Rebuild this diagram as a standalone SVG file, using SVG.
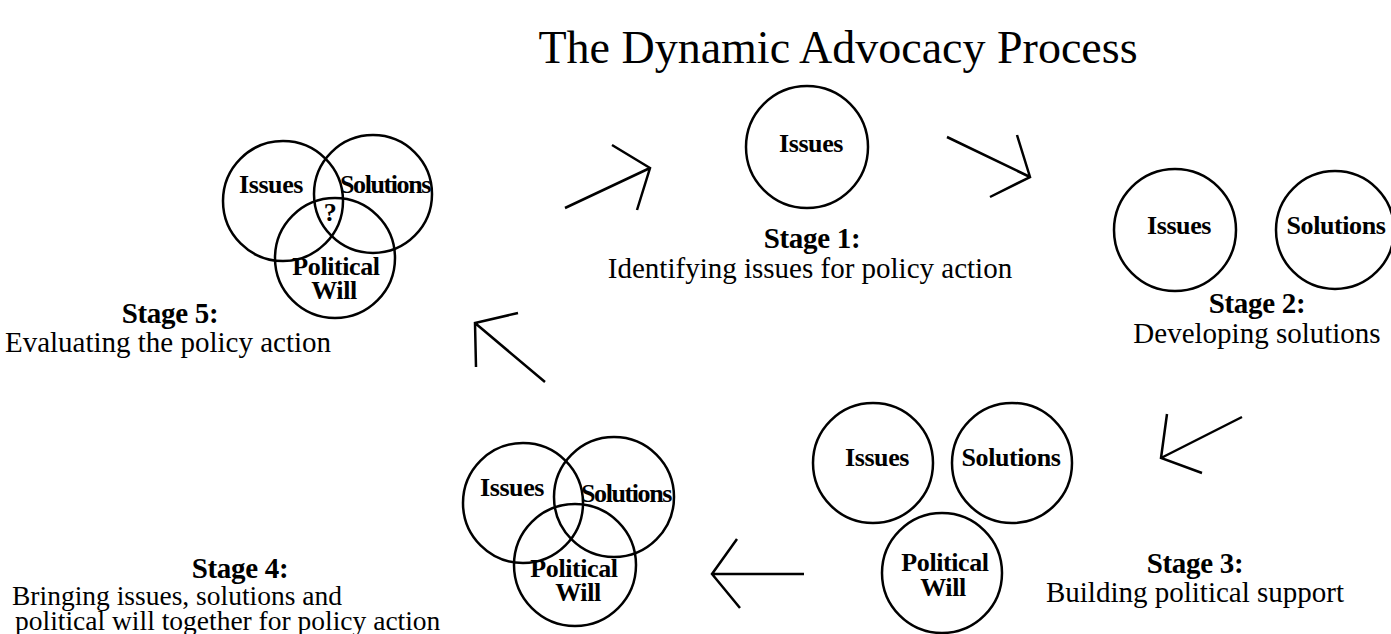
<svg xmlns="http://www.w3.org/2000/svg" width="1391" height="634" viewBox="0 0 1391 634">
<style>
.c{fill:none;stroke:#000;stroke-width:2.5}
.a{fill:none;stroke:#000;stroke-width:2.5;stroke-linecap:butt;stroke-linejoin:miter}
.lb{font-family:"Liberation Serif",serif;font-weight:bold;font-size:26px;text-anchor:middle;fill:#000;letter-spacing:-0.4px}
.vs{letter-spacing:-1.4px}
.st{font-family:"Liberation Serif",serif;font-weight:bold;font-size:29px;text-anchor:middle;fill:#000;letter-spacing:-0.3px}
.ds{font-family:"Liberation Serif",serif;font-size:29px;text-anchor:middle;fill:#000}
.d4{font-size:27.5px;text-anchor:start}
.ti{font-family:"Liberation Serif",serif;font-size:46px;text-anchor:middle;fill:#000}
</style>
<rect width="1391" height="634" fill="#fff"/>
<text class="ti" x="838" y="63">The Dynamic Advocacy Process</text>

<g id="stage1">
<circle class="c" cx="807" cy="147" r="61"/>
<text class="lb" x="811" y="152">Issues</text>
<text class="st" x="812" y="248">Stage 1:</text>
<text class="ds" x="810" y="278">Identifying issues for policy action</text>
</g>

<g id="stage2">
<circle class="c" cx="1175" cy="230" r="61"/>
<circle class="c" cx="1335" cy="230" r="59"/>
<text class="lb" x="1179" y="234">Issues</text>
<text class="lb" x="1336" y="234">Solutions</text>
<text class="st" x="1257" y="313">Stage 2:</text>
<text class="ds" x="1257" y="343">Developing solutions</text>
</g>

<g id="stage3">
<circle class="c" cx="873" cy="463" r="60"/>
<circle class="c" cx="1012" cy="463" r="60"/>
<circle class="c" cx="942" cy="573" r="60"/>
<text class="lb" x="877" y="466">Issues</text>
<text class="lb" x="1011" y="466">Solutions</text>
<text class="lb"><tspan x="945" y="571">Political</tspan><tspan x="943" y="596">Will</tspan></text>
<text class="st" x="1195" y="573">Stage 3:</text>
<text class="ds" x="1195" y="602">Building political support</text>
</g>

<g id="stage4">
<circle class="c" cx="523" cy="503" r="60"/>
<circle class="c" cx="614" cy="497" r="60"/>
<circle class="c" cx="575" cy="565" r="61"/>
<text class="lb" x="512" y="496">Issues</text>
<text class="lb vs" x="626" y="502">Solutions</text>
<text class="lb"><tspan x="574" y="577">Political</tspan><tspan x="578" y="601">Will</tspan></text>
<text class="st" x="240" y="578">Stage 4:</text>
<text class="ds d4"><tspan x="12" y="605">Bringing issues, solutions and</tspan><tspan x="15" y="630">political will together for policy action</tspan></text>
</g>

<g id="stage5">
<circle class="c" cx="283" cy="201" r="60"/>
<circle class="c" cx="373" cy="194" r="59"/>
<circle class="c" cx="335" cy="258" r="60"/>
<text class="lb" x="271" y="193">Issues</text>
<text class="lb vs" x="385" y="193">Solutions</text>
<text class="lb" x="330" y="221">?</text>
<text class="lb"><tspan x="336" y="275">Political</tspan><tspan x="334" y="299">Will</tspan></text>
<text class="st" x="170" y="323">Stage 5:</text>
<text class="ds" x="168" y="352">Evaluating the policy action</text>
</g>

<g id="connectors">
<path class="a" d="M565,208 L650,168 M612,145 L650,168 L637,210"/>
<path class="a" d="M947,137 L1030,177 M1017,135 L1030,177 L990,197"/>
<path class="a" d="M1242,417 L1161,458 M1167,414 L1161,458 L1202,473"/>
<path class="a" d="M804,574 L712,574 M737,539 L712,574 L740,608"/>
<path class="a" d="M545,382 L475,323 M518,313 L475,323 L476,367"/>
</g>
</svg>
